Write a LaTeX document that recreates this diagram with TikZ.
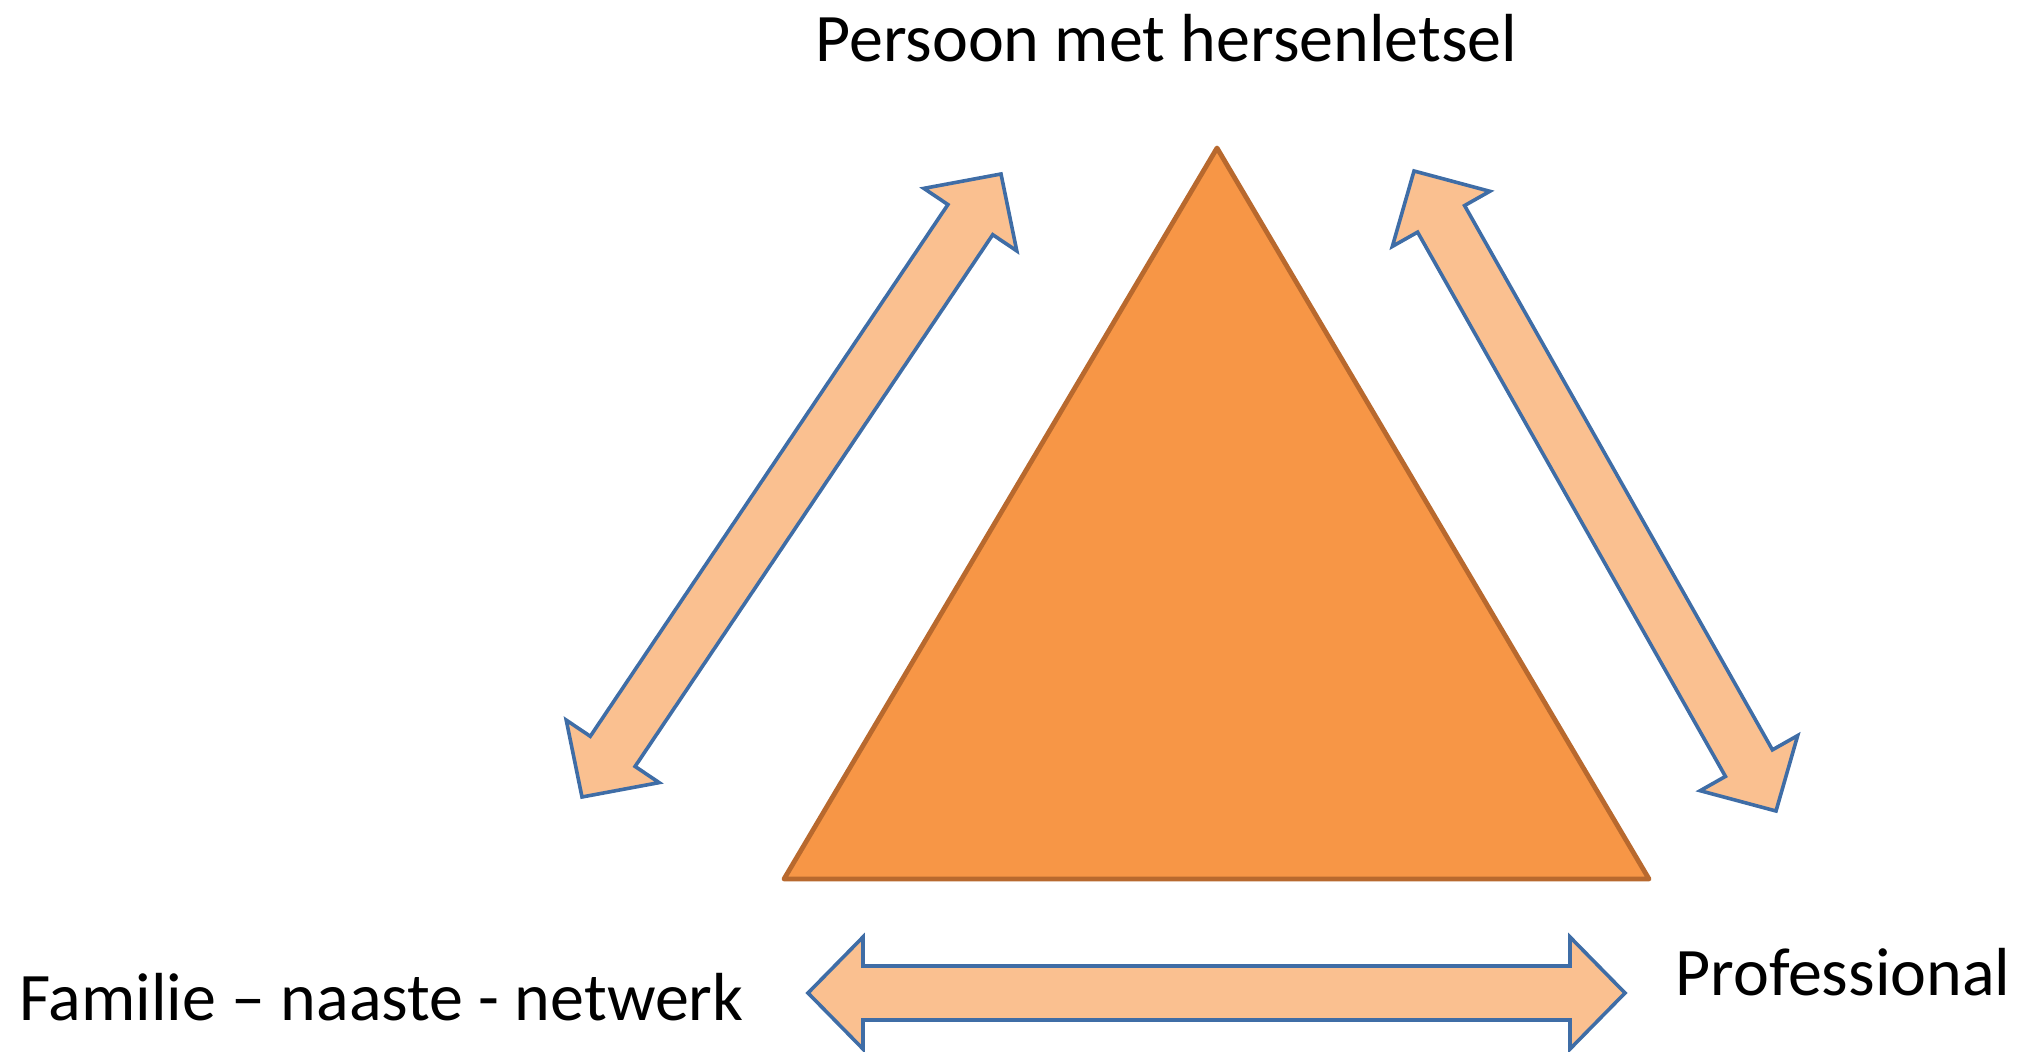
\documentclass[tikz,border=0pt]{standalone}
\usepackage{fontspec}
\setmainfont{Carlito}
\usetikzlibrary{calc}
\definecolor{triFill}{HTML}{F79646}
\definecolor{triLine}{HTML}{B8692E}
\definecolor{arrFill}{HTML}{FAC090}
\definecolor{arrLine}{HTML}{3F6DA6}
\tikzset{
  lbl/.style={inner sep=0pt, font=\fontsize{34}{41}\selectfont, text=black},
  tri/.style={fill=triFill, draw=triLine, line width=2.4pt, line join=round},
  blockarr/.style={fill=arrFill, draw=arrLine, line width=1.8pt, line join=miter},
}
% block double arrow between two named coordinates
\newcommand\blockdouble[2]{%
  \draw[blockarr] (#1)
    -- ($(#1)!27.5pt!(#2)!28pt!90:(#2)$)
    -- ($(#1)!27.5pt!(#2)!13.5pt!90:(#2)$)
    -- ($(#2)!27.5pt!(#1)!13.5pt!-90:(#1)$)
    -- ($(#2)!27.5pt!(#1)!28pt!-90:(#1)$)
    -- (#2)
    -- ($(#2)!27.5pt!(#1)!28pt!90:(#1)$)
    -- ($(#2)!27.5pt!(#1)!13.5pt!90:(#1)$)
    -- ($(#1)!27.5pt!(#2)!13.5pt!-90:(#2)$)
    -- ($(#1)!27.5pt!(#2)!28pt!-90:(#2)$)
    -- cycle;}
\begin{document}
\begin{tikzpicture}[x=0.5pt,y=-0.5pt]
\useasboundingbox (0,0) rectangle (2017,1052);
% labels
\node[lbl, anchor=base west] (persoon) at (815,62) {Persoon met hersenletsel};
\node[lbl, anchor=base west] (familie) at (19,1020) {Familie – naaste - netwerk};
\node[lbl, anchor=base west] (prof) at (1675,995) {Professional};
% triangle
\coordinate (apex) at (1217,148);
\coordinate (bl) at (784,879);
\coordinate (br) at (1649,879);
\draw[tri] (apex) -- (bl) -- (br) -- cycle;
% arrow end points
\coordinate (l1) at (1001,174);
\coordinate (l2) at (582,797);
\coordinate (r1) at (1414,171);
\coordinate (r2) at (1776,811);
\coordinate (b1) at (808,993);
\coordinate (b2) at (1625,993);
\blockdouble{l1}{l2}
\blockdouble{r1}{r2}
\blockdouble{b1}{b2}
\end{tikzpicture}
\end{document}
